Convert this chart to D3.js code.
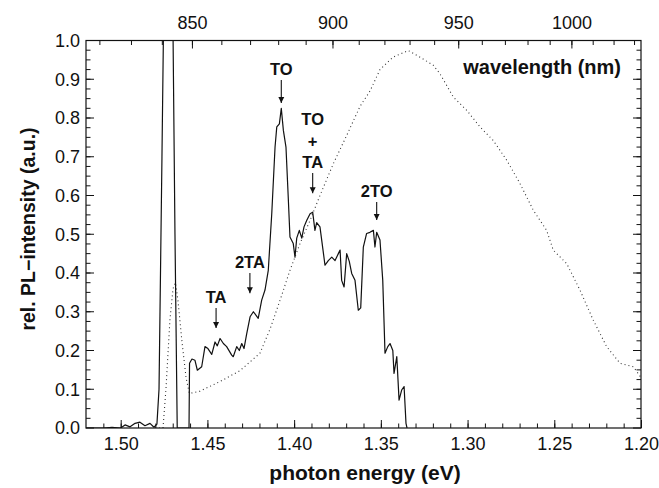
<!DOCTYPE html>
<html><head><meta charset="utf-8">
<script src="https://cdn.jsdelivr.net/npm/d3@7"></script>
<style>
body{margin:0;background:#fff;}
svg text{font-family:"Liberation Sans",Arial,Helvetica,sans-serif;fill:#111;}
</style></head>
<body><svg id="c" width="659" height="488"></svg>
<script>
// photon energy (eV) / relative PL intensity — solid spectrum
const solidE = [1.52,1.51,1.505,1.50,1.4975,1.4946,1.4917,1.4889,1.486,1.4831,1.4808,1.4791,1.4779,1.4762,1.475,1.4727,1.47,1.4687,1.4674,1.4606,1.4603,1.4589,1.4572,1.4558,1.4533,1.4514,1.4497,1.4475,1.4456,1.4443,1.4427,1.4408,1.4389,1.436,1.4351,1.4331,1.4316,1.4302,1.4289,1.4273,1.4254,1.4235,1.4207,1.4187,1.4168,1.4149,1.4129,1.411,1.41,1.4085,1.4074,1.4062,1.4047,1.4034,1.4024,1.4005,1.3995,1.3985,1.397,1.3956,1.3943,1.3927,1.3908,1.3893,1.388,1.387,1.3851,1.3841,1.3822,1.3803,1.3783,1.3764,1.3745,1.3735,1.3726,1.3712,1.3697,1.3682,1.3668,1.3649,1.363,1.3616,1.3601,1.3582,1.3563,1.3543,1.3534,1.3524,1.3505,1.3489,1.3476,1.346,1.3447,1.3431,1.3424,1.3408,1.3395,1.338,1.3366,1.3355,1.3349];
const solidI = [0,0,0.002,0,0.008,0.003,0.012,0.015,0.006,0.012,0.002,0.01,0.1,0.7,1.15,1.2,1.1,0.5,0,0,0.167,0.178,0.175,0.149,0.158,0.21,0.205,0.19,0.222,0.212,0.231,0.218,0.21,0.188,0.184,0.21,0.2,0.218,0.205,0.244,0.287,0.3,0.283,0.33,0.356,0.407,0.553,0.725,0.777,0.785,0.825,0.768,0.725,0.596,0.493,0.476,0.441,0.49,0.51,0.49,0.519,0.536,0.553,0.557,0.51,0.53,0.519,0.485,0.42,0.432,0.441,0.432,0.45,0.459,0.381,0.364,0.45,0.43,0.399,0.381,0.304,0.31,0.467,0.502,0.505,0.51,0.467,0.505,0.485,0.381,0.193,0.21,0.218,0.2,0.141,0.184,0.072,0.098,0.107,0.012,0];
// dotted spectrum
const dotE = [1.4802,1.4756,1.4739,1.4716,1.4698,1.4684,1.467,1.4646,1.4623,1.4604,1.4543,1.4427,1.4312,1.4197,1.4139,1.4081,1.4024,1.3966,1.3908,1.3851,1.3776,1.3697,1.362,1.3562,1.3505,1.343,1.3342,1.3274,1.3197,1.3159,1.3082,1.3005,1.2928,1.2852,1.2774,1.2698,1.2621,1.2544,1.2506,1.2428,1.2352,1.2275,1.2198,1.2121,1.2044,1.2];
const dotI = [0,0,0.1,0.28,0.36,0.375,0.33,0.22,0.13,0.089,0.095,0.12,0.148,0.193,0.255,0.33,0.407,0.476,0.536,0.6,0.68,0.755,0.83,0.87,0.925,0.957,0.974,0.957,0.936,0.914,0.854,0.82,0.777,0.742,0.691,0.631,0.562,0.51,0.459,0.424,0.356,0.278,0.21,0.167,0.158,0.13];
// ticks
const xMajor = [1.50,1.45,1.40,1.35,1.30,1.25,1.20];
const yMajor = [0,0.1,0.2,0.3,0.4,0.5,0.6,0.7,0.8,0.9,1.0];
const nmMajor = [850,900,950,1000];
// annotations: label lines, energy, arrow top value, arrow bottom value
const annLabels = [["TA"],["2TA"],["TO"],["TO","+","TA"],["2TO"]];
const annE = [1.4450,1.4255,1.4074,1.3893,1.3524];
const annArrowTop = [0.310,0.400,0.898,0.658,0.583];
const annArrowBot = [0.258,0.348,0.839,0.606,0.537];

const svg = d3.select("#c");
const L=86,R=641,T=40.5,B=428;
const x = d3.scaleLinear().domain([1.52,1.20]).range([L,R]);
const y = d3.scaleLinear().domain([0,1]).range([B,T]);
const hc = 1239.84;

svg.append("defs").append("clipPath").attr("id","clip").append("rect")
  .attr("x",L).attr("y",T).attr("width",R-L).attr("height",B-T);

const line = d3.line().x(d=>x(d[0])).y(d=>y(d[1]));
const g = svg.append("g").attr("clip-path","url(#clip)");
g.append("path").datum(dotE.map((e,i)=>[e,dotI[i]])).attr("d",line)
  .attr("fill","none").attr("stroke","#333").attr("stroke-width",1.1).attr("stroke-dasharray","1,3");
g.append("path").datum(solidE.map((e,i)=>[e,solidI[i]])).attr("d",line)
  .attr("fill","none").attr("stroke","#111").attr("stroke-width",1.2).attr("stroke-linejoin","round");

// frame
svg.append("rect").attr("x",L).attr("y",T).attr("width",R-L).attr("height",B-T)
  .attr("fill","none").attr("stroke","#111").attr("stroke-width",1.2);

const fs = 18;
// bottom axis
const xMinor = d3.range(1.51,1.195,-0.01);
const axB = svg.append("g").attr("transform",`translate(0,${B})`);
axB.call(d3.axisBottom(x).tickValues(xMinor).tickSize(-4.5).tickFormat(""));
axB.append("g").call(d3.axisBottom(x).tickValues(xMajor).tickSize(-8).tickPadding(9).tickFormat(d3.format(".2f")));
axB.selectAll(".domain").remove();
axB.selectAll("line").attr("stroke","#111");
axB.selectAll("text").attr("font-size",fs).attr("fill","#111").attr("font-family","Liberation Sans, Arial, sans-serif");

// top axis (wavelength)
const nmMinor = d3.range(820,1031,10);
const nmToX = nm => x(hc/nm);
const axT = svg.append("g").attr("transform",`translate(0,${T})`);
axT.selectAll("line.mi").data(nmMinor).join("line")
  .attr("x1",nmToX).attr("x2",nmToX).attr("y1",0).attr("y2",4.5).attr("stroke","#111");
axT.selectAll("line.ma").data(nmMajor).join("line")
  .attr("x1",nmToX).attr("x2",nmToX).attr("y1",0).attr("y2",8).attr("stroke","#111");
axT.selectAll("text").data(nmMajor).join("text")
  .attr("x",nmToX).attr("y",-12).attr("text-anchor","middle").attr("font-size",fs).text(d=>d);

// left & right axes
const yMinor = d3.range(0.025,1,0.025);
[[L,1],[R,-1]].forEach(([xx,dir])=>{
  const a = svg.append("g");
  a.selectAll("line.mi").data(yMinor).join("line")
    .attr("x1",xx).attr("x2",xx+dir*4.5).attr("y1",y).attr("y2",y).attr("stroke","#111");
  a.selectAll("line.ma").data(yMajor).join("line")
    .attr("x1",xx).attr("x2",xx+dir*8).attr("y1",y).attr("y2",y).attr("stroke","#111");
});
svg.append("g").selectAll("text").data(yMajor).join("text")
  .attr("x",L-6).attr("y",d=>y(d)).attr("dy","0.36em").attr("text-anchor","end")
  .attr("font-size",fs).text(d=>d.toFixed(1));

// axis titles
svg.append("text").attr("x",365).attr("y",480).attr("text-anchor","middle")
  .attr("font-size",21).attr("font-weight","bold").text("photon energy (eV)");
svg.append("text").attr("transform","translate(35,229) rotate(-90)").attr("text-anchor","middle")
  .attr("font-size",19.5).attr("font-weight","bold").text("rel. PL\u2212intensity (a.u.)");
svg.append("text").attr("x",621).attr("y",74).attr("text-anchor","end")
  .attr("font-size",20).attr("font-weight","bold").text("wavelength (nm)");

// annotations
const defs = svg.select("defs");
defs.append("marker").attr("id","arr").attr("viewBox","0 0 10 10").attr("refX",10).attr("refY",5)
  .attr("markerWidth",6).attr("markerHeight",7).attr("markerUnits","userSpaceOnUse").attr("orient","auto")
  .append("path").attr("d","M0,0 L10,5 L0,10 z").attr("fill","#111");
annLabels.forEach((lines,i)=>{
  const ax = x(annE[i]);
  const y0 = y(annArrowTop[i]);
  svg.append("line").attr("x1",ax).attr("x2",ax).attr("y1",y0).attr("y2",y(annArrowBot[i]))
    .attr("stroke","#111").attr("stroke-width",1.1).attr("marker-end","url(#arr)");
  const n = lines.length;
  lines.forEach((t,j)=>{
    svg.append("text").attr("x",ax).attr("y",y0-5-(n-1-j)*21.5).attr("text-anchor","middle")
      .attr("font-size",16.5).attr("font-weight","bold").text(t);
  });
});
</script></body></html>
